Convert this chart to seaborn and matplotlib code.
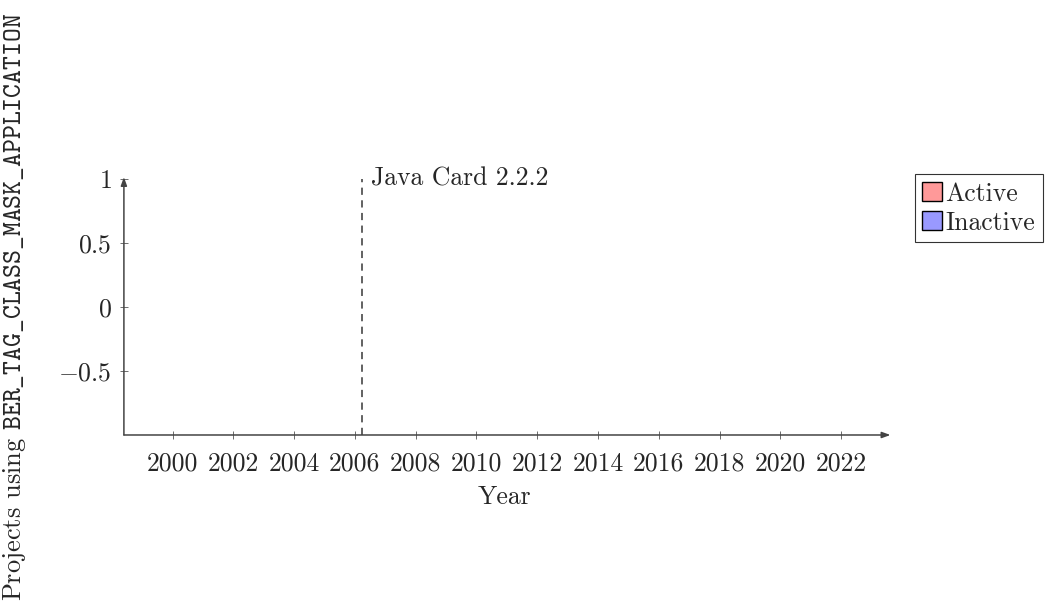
import matplotlib
matplotlib.use("Agg")
import matplotlib.pyplot as plt
import seaborn as sns
from matplotlib.patches import Patch

# data: no projects recorded, only the release marker
years = []
active = []
inactive = []
release_year = 2006.25
release_label = "Java Card 2.2.2"
x_ticks = [2000, 2002, 2004, 2006, 2008, 2010, 2012, 2014, 2016, 2018, 2020, 2022]
y_ticks = [-0.5, 0, 0.5, 1]
y_tick_labels = ["$-0.5$", "$0$", "$0.5$", "$1$"]
series_names = ["Active", "Inactive"]
series_colors = ["#ff9999", "#9999ff"]

sns.set_style("white")
plt.rcParams['font.family'] = ['cmr10', 'DejaVu Serif']
plt.rcParams['mathtext.fontset'] = 'cm'
plt.rcParams['axes.formatter.use_mathtext'] = True

fs = 18.5

fig = plt.figure(figsize=(10.5, 6.05), dpi=100)
ax = fig.add_axes([0.118, 0.281, 0.725, 0.423])

ax.bar(years, active, color=series_colors[0], edgecolor="black")
ax.bar(years, inactive, bottom=active, color=series_colors[1], edgecolor="black")

ax.set_xlim(1998.4, 2023.45)
ax.set_ylim(-1.0, 1.0)
ax.set_xticks(x_ticks)
ax.set_xticklabels([str(y) for y in x_ticks])
ax.set_yticks(y_ticks)
ax.set_yticklabels(y_tick_labels)
ax.tick_params(axis="both", direction="inout", length=6, width=0.6, color="#555555",
               labelsize=fs, pad=6)
ax.tick_params(axis="x", pad=9)
ax.tick_params(axis="both", bottom=True, left=True)

for s in ax.spines.values():
    s.set_visible(False)

arrow = dict(arrowstyle="-|>,head_length=0.5,head_width=0.18", color="#444444", lw=1.1,
             shrinkA=0, shrinkB=0)
ax.annotate("", xy=(1.007, 0), xytext=(0, 0), xycoords="axes fraction", arrowprops=arrow)
ax.annotate("", xy=(0, 1.008), xytext=(0, 0), xycoords="axes fraction", arrowprops=arrow)

ax.axvline(release_year, color="#555555", linestyle=(0, (4, 3)), linewidth=1.3)
ax.annotate(release_label, xy=(release_year, 1), xytext=(6, 0), textcoords="offset points",
            ha="left", va="center", fontsize=fs)

ax.set_xlabel("Year", fontsize=fs, labelpad=7)
fig.text(0.014, 0.493, r"Projects using $\mathtt{BER\_TAG\_CLASS\_MASK\_APPLICATION}$",
         rotation=90, ha="center", va="center", fontsize=19)

handles = [Patch(facecolor=c, edgecolor="black", label=n) for n, c in zip(series_names, series_colors)]
leg = fig.legend(handles=handles, loc="upper left", bbox_to_anchor=(0.871, 0.712),
                 frameon=True, fancybox=False, edgecolor="black", fontsize=fs,
                 handlelength=0.75, handleheight=0.75, handletextpad=0.15,
                 borderpad=0.3, labelspacing=0.2, borderaxespad=0)
leg.get_frame().set_linewidth(0.8)

fig.savefig("out.png", dpi=100)
